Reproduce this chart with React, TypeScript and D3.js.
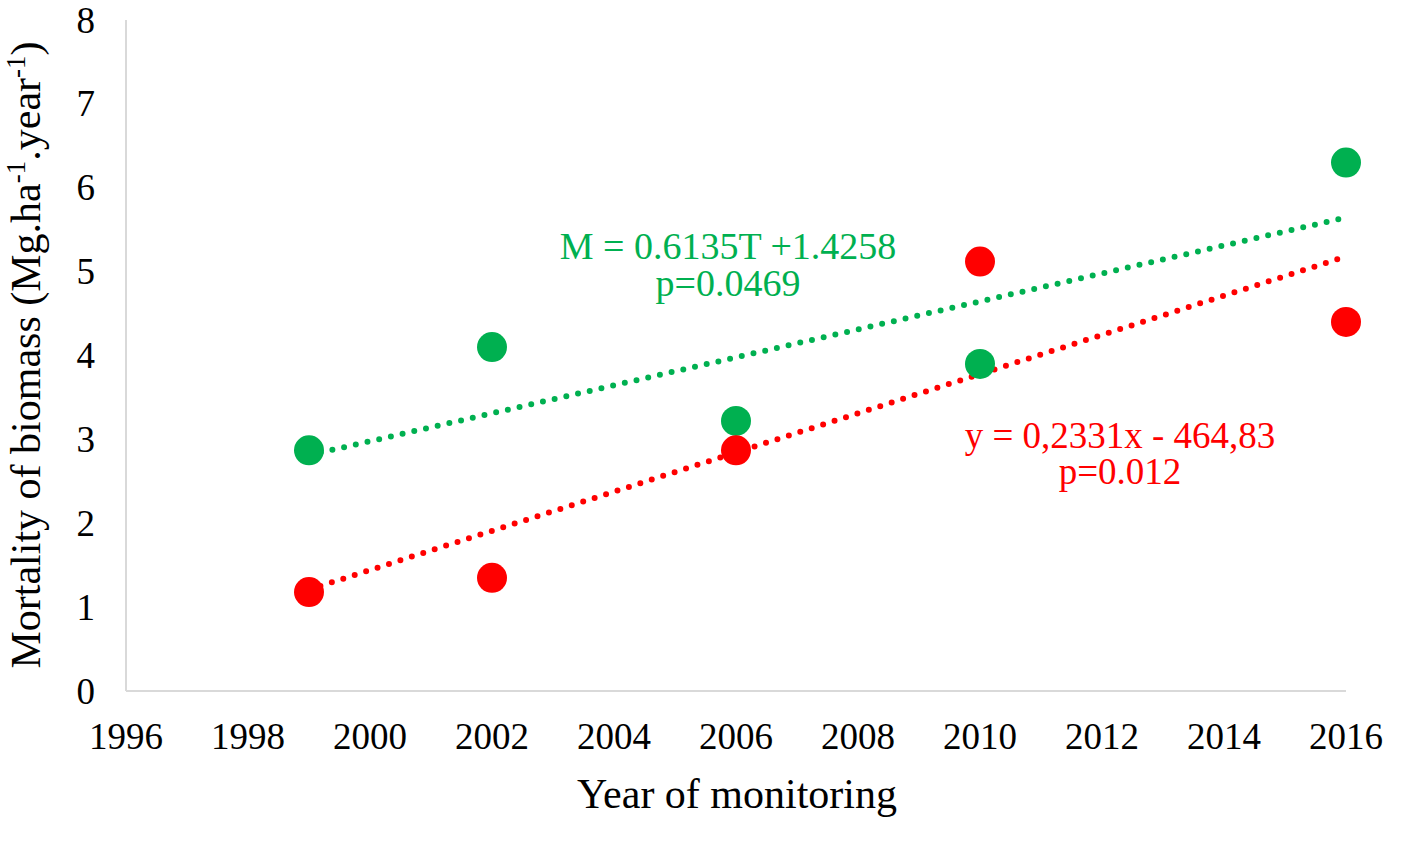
import React from "react";
import * as d3 from "d3";

const years = [1999, 2002, 2006, 2010, 2016];
const greenValues = [2.87, 4.1, 3.22, 3.9, 6.3];
const redValues = [1.18, 1.35, 2.87, 5.12, 4.4];
const xTicks = [1996, 1998, 2000, 2002, 2004, 2006, 2008, 2010, 2012, 2014, 2016];
const yTicks = [0, 1, 2, 3, 4, 5, 6, 7, 8];
const greenLabel = ["M = 0.6135T +1.4258", "p=0.0469"];
const redLabel = ["y = 0,2331x - 464,83", "p=0.012"];

const W = 1427;
const H = 849;
const GREEN = "#00b050";
const RED = "#ff0000";
const FONT = "'Liberation Serif', 'Times New Roman', serif";

function fit(xs: number[], ys: number[]) {
  const mx = d3.mean(xs)!;
  const my = d3.mean(ys)!;
  let sxy = 0;
  let sxx = 0;
  xs.forEach((x, i) => {
    sxy += (x - mx) * (ys[i] - my);
    sxx += (x - mx) * (x - mx);
  });
  const b = sxy / sxx;
  const a = my - b * mx;
  return (x: number) => a + b * x;
}

export default function App() {
  const x = d3.scaleLinear().domain([1996, 2016]).range([126, 1346]);
  const y = d3.scaleLinear().domain([0, 8]).range([691, 20]);
  const x0 = d3.min(years)!;
  const x1 = d3.max(years)!;
  const gFit = fit(years, greenValues);
  const rFit = fit(years, redValues);
  const line = d3
    .line<number[]>()
    .x((d) => x(d[0]))
    .y((d) => y(d[1]));
  const gPath = line([
    [x0, gFit(x0)],
    [x1, gFit(x1)],
  ])!;
  const rPath = line([
    [x0, rFit(x0)],
    [x1, rFit(x1)],
  ])!;

  return (
    <svg
      width={W}
      height={H}
      style={{ position: "absolute", left: 0, top: 0, background: "#fff" }}
      fontFamily={FONT}
    >
      <rect x={0} y={0} width={W} height={H} fill="#fff" />
      {/* axes */}
      <line x1={x(1996)} x2={x(1996)} y1={y(8)} y2={y(0)} stroke="#d9d9d9" strokeWidth={2} />
      <line x1={x(1996)} x2={x(2016)} y1={y(0)} y2={y(0)} stroke="#d9d9d9" strokeWidth={2} />
      {yTicks.map((t) => (
        <text key={"y" + t} x={95} y={y(t)} textAnchor="end" dominantBaseline="central" fontSize={37} fill="#000">
          {t}
        </text>
      ))}
      {xTicks.map((t) => (
        <text key={"x" + t} x={x(t)} y={749} textAnchor="middle" fontSize={37} fill="#000">
          {t}
        </text>
      ))}
      <text x={(x(1996) + x(2016)) / 2 + 1} y={808} textAnchor="middle" fontSize={42} fill="#000">
        Year of monitoring
      </text>
      <text
        transform={`translate(40, 355) rotate(-90)`}
        textAnchor="middle"
        fontSize={42}
        fill="#000"
      >
        Mortality of biomass (Mg.ha
        <tspan dy={-15} fontSize={27}>-1</tspan>
        <tspan dy={15}>.year</tspan>
        <tspan dy={-15} fontSize={27}>-1</tspan>
        <tspan dy={15}>)</tspan>
      </text>
      {/* trend lines */}
      <path d={gPath} stroke={GREEN} strokeWidth={6} strokeDasharray="0,12" strokeLinecap="round" fill="none" />
      <path d={rPath} stroke={RED} strokeWidth={6} strokeDasharray="0,12" strokeLinecap="round" fill="none" />
      {/* points */}
      {years.map((yr, i) => (
        <circle key={"g" + yr} cx={x(yr)} cy={y(greenValues[i])} r={15} fill={GREEN} />
      ))}
      {years.map((yr, i) => (
        <circle key={"r" + yr} cx={x(yr)} cy={y(redValues[i])} r={15} fill={RED} />
      ))}
      {/* annotations */}
      <text textAnchor="middle" fontSize={38} fill={GREEN}>
        <tspan x={728} y={259}>{greenLabel[0]}</tspan>
        <tspan x={728} y={296}>{greenLabel[1]}</tspan>
      </text>
      <text textAnchor="middle" fontSize={37} fill={RED}>
        <tspan x={1120} y={448}>{redLabel[0]}</tspan>
        <tspan x={1120} y={484}>{redLabel[1]}</tspan>
      </text>
    </svg>
  );
}
